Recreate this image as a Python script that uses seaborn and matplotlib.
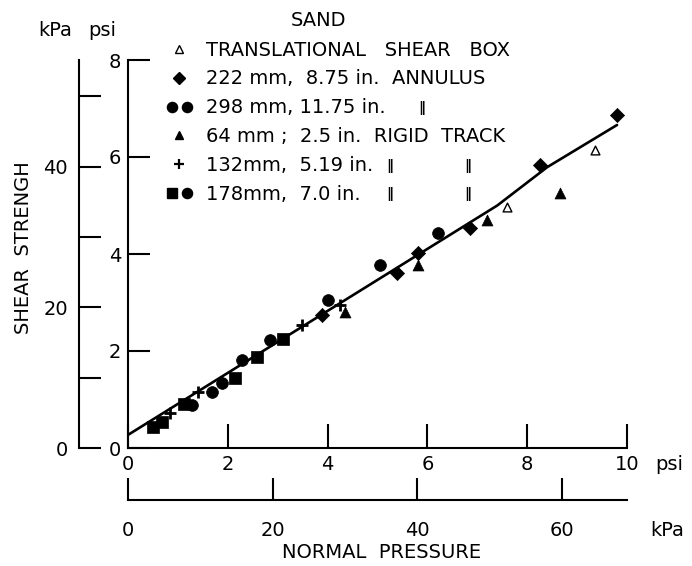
import numpy as np
import pandas as pd
import matplotlib
matplotlib.use("Agg")
import matplotlib.pyplot as plt
import seaborn as sns
from matplotlib.lines import Line2D
from matplotlib.legend_handler import HandlerTuple

# ---- data (normal pressure psi, shear strength psi) ----
box_x = [7.60, 9.36]
box_y = [4.97, 6.14]
ann222_x = [3.89, 5.39, 5.81, 6.85, 8.26, 9.80]
ann222_y = [2.74, 3.61, 4.02, 4.54, 5.84, 6.87]
ann298_x = [1.28, 1.68, 1.88, 2.28, 2.85, 4.01, 5.05, 6.21]
ann298_y = [0.89, 1.15, 1.34, 1.81, 2.23, 3.05, 3.77, 4.43]
trk64_x = [4.35, 5.81, 7.19, 8.66]
trk64_y = [2.80, 3.77, 4.70, 5.26]
trk132_x = [0.84, 1.40, 3.49, 4.25]
trk132_y = [0.72, 1.15, 2.54, 2.95]
trk178_x = [0.50, 0.68, 1.12, 2.14, 2.59, 3.11]
trk178_y = [0.43, 0.54, 0.91, 1.44, 1.88, 2.25]
fit_x = [0.0, 7.4, 8.4, 9.8]
fit_y = [0.27, 5.00, 5.79, 6.66]

psi_ticks_x = [0, 2, 4, 6, 8, 10]
kpa_ticks_x = [0, 20, 40, 60]
psi_ticks_y = [0, 2, 4, 6, 8]
kpa_ticks_y = [0, 10, 20, 30, 40, 50]
kpa_labels_y = ["0", "", "20", "", "40", ""]

legend_labels = [
    "TRANSLATIONAL   SHEAR   BOX",
    "222 mm,  8.75 in.  ANNULUS",
    "298 mm, 11.75 in.",
    "64 mm ;  2.5 in.  RIGID  TRACK",
    "132mm,  5.19 in.",
    "178mm,  7.0 in.",
]

PSI2KPA = 6.895

sns.set_theme(style="ticks")
plt.rcParams["font.family"] = ["DejaVu Sans"]
plt.rcParams["axes.linewidth"] = 1.5
plt.rcParams["text.color"] = "black"
plt.rcParams["xtick.color"] = "black"
plt.rcParams["ytick.color"] = "black"
plt.rcParams["axes.edgecolor"] = "black"

W, H = 692, 566
fig = plt.figure(figsize=(W / 100, H / 100), dpi=100)
ax = fig.add_axes([128 / W, (H - 448) / H, 499 / W, 388 / H])

# ---- marks ----
sns.lineplot(x=fit_x, y=fit_y, ax=ax, color="black", lw=1.9, sort=False, estimator=None)
sns.scatterplot(x=box_x, y=box_y, ax=ax, marker="^", s=40, facecolor="white",
                edgecolor="black", linewidth=1.0, zorder=3)
sns.scatterplot(x=ann222_x, y=ann222_y, ax=ax, marker="D", s=52, color="black",
                edgecolor="black", linewidth=0.5, zorder=3)
sns.scatterplot(x=ann298_x, y=ann298_y, ax=ax, marker="o", s=72, color="black",
                edgecolor="black", linewidth=0.5, zorder=3)
sns.scatterplot(x=trk64_x, y=trk64_y, ax=ax, marker="^", s=62, color="black",
                edgecolor="black", linewidth=0.5, zorder=3)
sns.scatterplot(x=trk132_x, y=trk132_y, ax=ax, marker="+", s=80, color="black",
                linewidth=2.0, zorder=3)
sns.scatterplot(x=trk178_x, y=trk178_y, ax=ax, marker="s", s=64, color="black",
                edgecolor="black", linewidth=0.5, zorder=3)

ax.set_xlim(0, 10)
ax.set_ylim(0, 8)
ax.set_xlabel("")
ax.set_ylabel("")
for sp in ["top", "right"]:
    ax.spines[sp].set_visible(False)
ax.spines["left"].set_linewidth(1.5)
ax.spines["bottom"].set_linewidth(1.5)
ax.set_xticks(psi_ticks_x)
ax.set_yticks(psi_ticks_y)
ax.tick_params(axis="y", direction="in", length=16, width=1.5, labelsize=14, pad=5, colors="black")
ax.tick_params(axis="x", direction="in", length=17, width=1.5, labelsize=14, pad=5, colors="black")

# secondary kPa y-axis
secy = ax.secondary_yaxis(-49 / 499, functions=(lambda p: p * PSI2KPA, lambda k: k / PSI2KPA))
secy.set_yticks(kpa_ticks_y)
secy.set_yticklabels(kpa_labels_y)
secy.tick_params(direction="in", length=16, width=1.5, labelsize=14, pad=8, colors="black")
for sp in secy.spines.values():
    sp.set_linewidth(1.5)

# secondary kPa x-axis
secx = ax.secondary_xaxis(-52 / 388, functions=(lambda p: p * PSI2KPA, lambda k: k / PSI2KPA))
secx.set_xticks(kpa_ticks_x)
secx.tick_params(direction="in", length=16, width=1.5, labelsize=14, pad=15, colors="black")
for sp in secx.spines.values():
    sp.set_linewidth(1.5)

# ---- texts ----
def ftext(x, y, s, **kw):
    kw.setdefault("fontsize", 14)
    kw.setdefault("color", "black")
    fig.text(x / W, 1 - y / H, s, **kw)

ftext(24, 248, "SHEAR  STRENGH", rotation=90, ha="center", va="center")
ftext(382, 553, "NORMAL  PRESSURE", ha="center", va="center")
ftext(655, 465, "psi", ha="left", va="center")
ftext(650, 531, "kPa", ha="left", va="center")
ftext(55, 30, "kPa", ha="center", va="center")
ftext(102, 30, "psi", ha="center", va="center")
ftext(318, 21, "SAND", ha="center", va="center")

# ---- legend ----
ms = 7.3
handles = [
    Line2D([], [], ls="", marker="^", ms=5.5, mfc="white", mec="black", mew=1.0),
    Line2D([], [], ls="", marker="D", ms=ms * 0.8, color="black"),
    (Line2D([], [], ls="", marker="o", ms=ms, color="black"),
     Line2D([], [], ls="", marker="o", ms=ms, color="black")),
    Line2D([], [], ls="", marker="^", ms=ms * 0.85, color="black"),
    Line2D([], [], ls="", marker="+", ms=ms, mew=1.6, color="black"),
    (Line2D([], [], ls="", marker="s", ms=ms * 0.9, color="black"),
     Line2D([], [], ls="", marker="o", ms=ms, color="black")),
]
fs_px = 14 * 100 / 72
leg = fig.legend(handles, legend_labels, loc="upper left",
                 bbox_to_anchor=(164 / W, 1 - 40.5 / H), frameon=False, borderpad=0,
                 borderaxespad=0, handlelength=30 / fs_px, handletextpad=0.62,
                 labelspacing=0.51, fontsize=14,
                 handler_map={tuple: HandlerTuple(ndivide=None, pad=0)})
for t in leg.get_texts():
    t.set_color("black")

# ditto marks
for (dx, dy) in [(422, 108), (390, 166), (468, 166), (390, 194), (468, 194)]:
    ftext(dx, dy, "\u2016", ha="center", va="center", fontsize=10, fontweight="bold")

fig.savefig("out.png", dpi=100)
